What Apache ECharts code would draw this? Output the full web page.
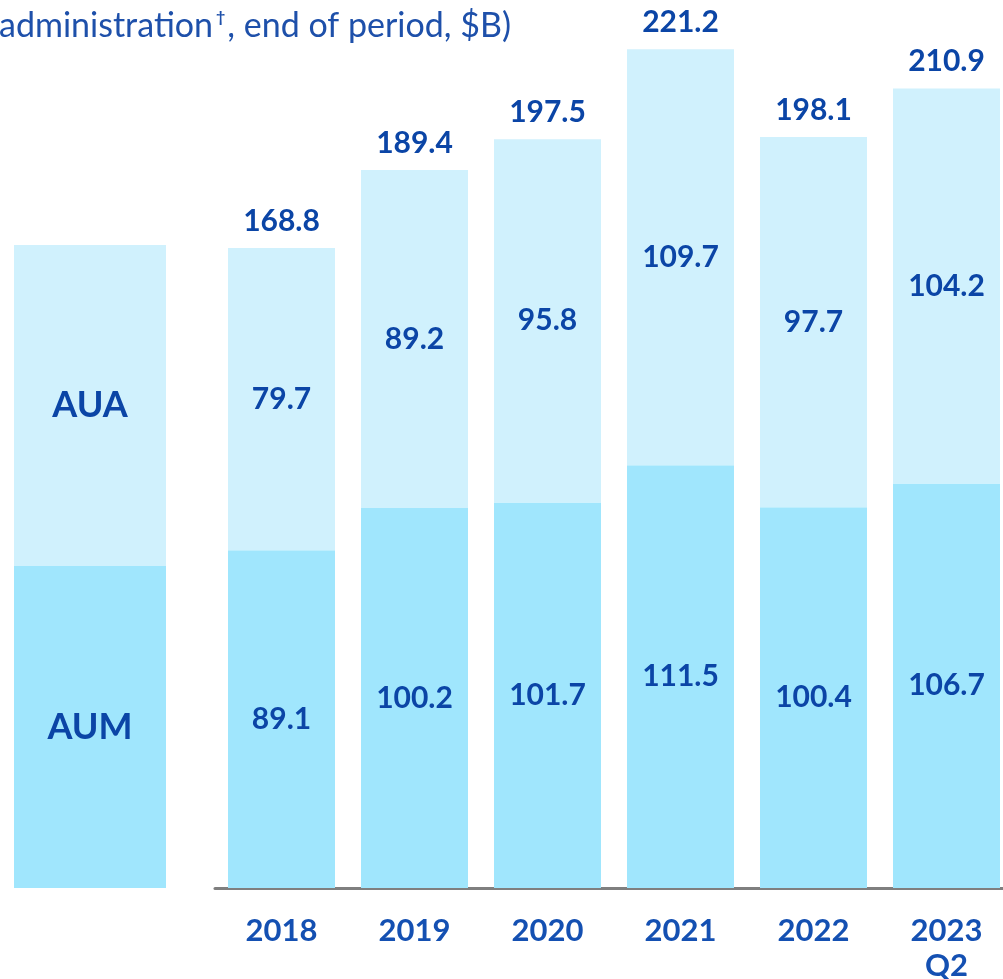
<!DOCTYPE html>
<html><head><meta charset="utf-8">
<script src="https://cdn.jsdelivr.net/npm/echarts@6/dist/echarts.min.js"></script>
<style>html,body{margin:0;padding:0;background:#fff}#c{width:1003px;height:979px}</style>
</head><body><div id="c"></div>
<script>
const categories = ['2018','2019','2020','2021','2022','2023\nQ2'];
const aum = [89.1, 100.2, 101.7, 111.5, 100.4, 106.7];
const aua = [79.7, 89.2, 95.8, 109.7, 97.7, 104.2];
const totals = [168.8, 189.4, 197.5, 221.2, 198.1, 210.9];
const keyNames = ['AUM', 'AUA'];
const keyValues = [84.9, 84.7];

const TXT = '#0B45A6';
const FONT = 'Lato';
const C_AUM = '#A0E6FD';
const C_AUA = '#D0F1FD';

const chart = echarts.init(document.getElementById('c'), null, {renderer:'canvas'});
chart.setOption({
  animation:false,
  backgroundColor:'#fff',
  title:{
    left:-1, top:9, padding:0,
    text:'{a|administration}{s|†}{a|, end of period, $B)}',
    textStyle:{rich:{
      a:{fontFamily:FONT, fontSize:34, color:'#1E50AA', fontWeight:'normal'},
      s:{fontFamily:FONT, fontSize:16, color:'#1E50AA', verticalAlign:'top', padding:[0,2,16,3]}
    }}
  },
  grid:[
    {left:215, right:-10, top:16, bottom:91, outerBoundsMode:'none', containLabel:false},
    {left:14, width:152, top:16, bottom:91, outerBoundsMode:'none', containLabel:false}
  ],
  xAxis:[
    {type:'category', gridIndex:0, data:categories,
     axisLine:{show:true, lineStyle:{color:'#7F7F7F', width:3}},
     axisTick:{show:false},
     axisLabel:{margin:25, color:'#1450B2', fontFamily:FONT, fontWeight:'bold', fontSize:31, lineHeight:35}},
    {type:'category', gridIndex:1, data:[''], axisLine:{show:false}, axisTick:{show:false}, axisLabel:{show:false}}
  ],
  yAxis:[
    {type:'value', gridIndex:0, min:0, max:230, show:false, splitLine:{show:false}},
    {type:'value', gridIndex:1, min:0, max:230, show:false, splitLine:{show:false}}
  ],
  series:[
    {type:'bar', name:'AUM', stack:'s', data:aum, barWidth:107, itemStyle:{color:C_AUM},
     label:{show:true, position:'inside', color:TXT, fontFamily:FONT, fontWeight:'bold', fontSize:30}},
    {type:'bar', name:'AUA', stack:'s', data:aua, barWidth:107, itemStyle:{color:C_AUA},
     label:{show:true, position:'inside', color:TXT, fontFamily:FONT, fontWeight:'bold', fontSize:30}},
    {type:'bar', name:'Total', stack:'s', data:totals.map(()=>0), barWidth:107, itemStyle:{color:'transparent'},
     label:{show:true, position:'top', distance:12, color:TXT, fontFamily:FONT, fontWeight:'bold', fontSize:30,
       formatter:p=>totals[p.dataIndex].toFixed(1)}},
    {type:'bar', name:keyNames[0], stack:'k', xAxisIndex:1, yAxisIndex:1, data:[keyValues[0]], barWidth:152,
     itemStyle:{color:C_AUM},
     label:{show:true, position:'inside', formatter:keyNames[0], color:TXT, fontFamily:FONT, fontWeight:'bold', fontSize:36}},
    {type:'bar', name:keyNames[1], stack:'k', xAxisIndex:1, yAxisIndex:1, data:[keyValues[1]], barWidth:152,
     itemStyle:{color:C_AUA},
     label:{show:true, position:'inside', formatter:keyNames[1], color:TXT, fontFamily:FONT, fontWeight:'bold', fontSize:36}}
  ]
});
</script></body></html>
